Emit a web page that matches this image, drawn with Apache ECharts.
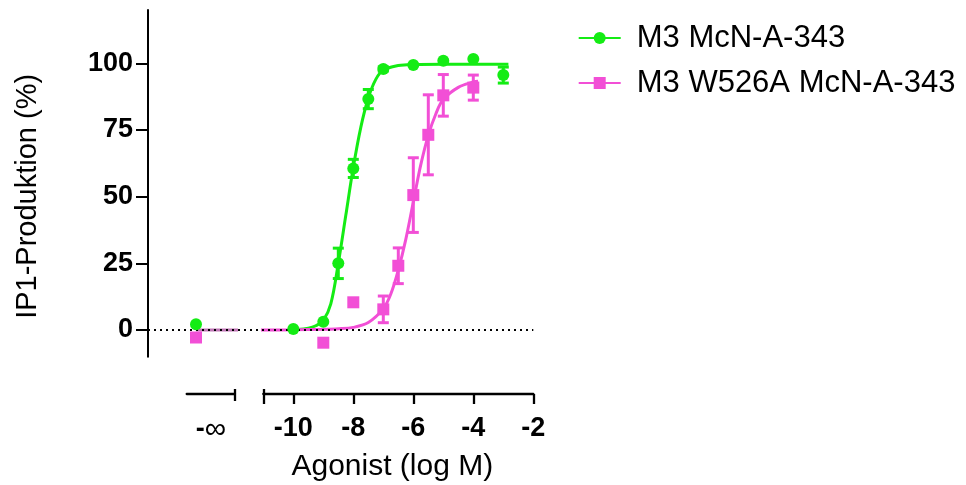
<!DOCTYPE html>
<html><head><meta charset="utf-8">
<script src="https://cdn.jsdelivr.net/npm/echarts@6/dist/echarts.min.js"></script>
<style>html,body{margin:0;padding:0;background:#fff}#c{width:966px;height:485px}</style>
</head><body><div id="c"></div>
<script>
// ---------- data ----------
const seriesNames = ['M3 McN-A-343', 'M3 W526A McN-A-343'];
const xTickValues = [-10, -8, -6, -4, -2];
const yTickValues = [0, 25, 50, 75, 100];

// points at -infinity (plotted on the left broken segment)
const negInfX = 0.31;
const greenNegInfY = 2.2;
const pinkNegInfY = -2.8;
const baselineX = [0.31, 1.74];
const baselineY = [0, 0];

// measured points (mean ± error)
const greenX = [-10, -9, -8.5, -8, -7.5, -7, -6, -5, -4, -3];
const greenY = [0.4, 3.1, 25, 60.6, 86.6, 97.9, 99.4, 101, 101.6, 95.6];
const greenErr = [0, 0, 5.7, 3.4, 3.6, 0.8, 0, 0, 0, 3];

const pinkX = [-9, -8, -7, -6.5, -6, -5.5, -5, -4];
const pinkY = [-4.75, 10.4, 7.75, 24.1, 50.6, 73.2, 88, 90.9];
const pinkErr = [0, 0, 5, 6.7, 14, 15, 7.8, 4.7];

// fitted curves
const greenCurveX = [-10.17, -10, -9.5, -9.25, -9, -8.75, -8.5, -8.25, -8, -7.75, -7.5, -7.25, -7, -6.5, -6, -5, -4, -2.83];
const greenCurveY = [0, 0.1, 0.7, 1.6, 3.6, 9.8, 25, 43, 61, 76, 87, 94, 97.5, 99.2, 99.6, 99.7, 99.7, 99.7];

const pinkCurveX = [-11.17, -10, -9, -8.5, -8, -7.5, -7, -6.75, -6.5, -6.25, -6, -5.75, -5.5, -5.25, -5, -4.5, -4, -3.84];
const pinkCurveY = [0, 0.1, 0.3, 0.5, 1, 2.8, 8, 13.5, 22.5, 34, 48, 62, 73, 81, 86.5, 91, 93, 93.3];

// ---------- style ----------
const FONT = "'Liberation Sans', Arial, sans-serif";
const GREEN = '#14ec14';
const PINK = '#f24fd6';
const zip = (xs, ys) => xs.map((x, i) => [x, ys[i]]);
const zip3 = (xs, ys, es) => xs.map((x, i) => [x, ys[i], es[i]]);

function errRender(color) {
  return function (params, api) {
    const x = api.value(0), y = api.value(1), e = api.value(2);
    if (!e) return null;
    const t = api.coord([x, y + e]);
    const b = api.coord([x, y - e]);
    const hw = 5.5;
    const st = { stroke: color, lineWidth: 3 };
    return {
      type: 'group',
      children: [
        { type: 'line', shape: { x1: t[0], y1: t[1], x2: b[0], y2: b[1] }, style: st },
        { type: 'line', shape: { x1: t[0] - hw, y1: t[1], x2: t[0] + hw, y2: t[1] }, style: st },
        { type: 'line', shape: { x1: b[0] - hw, y1: b[1], x2: b[0] + hw, y2: b[1] }, style: st }
      ]
    };
  };
}

const gridTop = 10, gridH = 346.7;
const yBase = { type: 'value', min: -10, max: 120, splitLine: { show: false } };
const hiddenY = Object.assign({}, yBase, { show: false });

const leftMax = 1.61;
const axOff = 37.3;

const option = {
  animation: false,
  backgroundColor: '#fff',
  textStyle: { fontFamily: FONT, color: '#000' },
  grid: [
    { left: 148, top: gridTop, width: 385.3, height: gridH, outerBoundsMode: 'none', containLabel: false },
    { left: 186.7, top: gridTop, width: 48.3, height: gridH, outerBoundsMode: 'none', containLabel: false },
    { left: 263.3, top: gridTop, width: 270, height: gridH, outerBoundsMode: 'none', containLabel: false }
  ],
  xAxis: [
    { gridIndex: 0, type: 'value', min: 0, max: 1, show: false },
    {
      gridIndex: 1, type: 'value', min: 0, max: leftMax, offset: axOff, position: 'bottom',
      axisLine: { show: true, onZero: false, lineStyle: { color: '#000', width: 2.3 } },
      axisTick: { show: true, customValues: [leftMax], length: 7, lineStyle: { color: '#000', width: 2.3 } },
      axisLabel: { show: false },
      splitLine: { show: false },
      name: '{b|-}{n|∞}', nameLocation: 'middle', nameGap: 21,
      nameTextStyle: {
        rich: {
          b: { fontFamily: FONT, fontSize: 27, fontWeight: 'bold', color: '#000' },
          n: { fontFamily: FONT, fontSize: 30, fontWeight: 'normal', color: '#000' }
        }
      }
    },
    {
      gridIndex: 2, type: 'value', min: -11, max: -2, offset: axOff, position: 'bottom',
      axisLine: { show: true, onZero: false, lineStyle: { color: '#000', width: 2.3 } },
      axisTick: { show: true, customValues: [-11].concat(xTickValues), length: 10, lineStyle: { color: '#000', width: 2.3 } },
      axisLabel: { customValues: xTickValues, fontFamily: FONT, fontSize: 27, fontWeight: 'bold', color: '#000', margin: 21 },
      splitLine: { show: false },
      name: 'Agonist (log M)', nameLocation: 'middle', nameGap: 58,
      nameTextStyle: { fontFamily: FONT, fontSize: 30, color: '#000', padding: [0, 12, 0, 0] }
    },
    {
      gridIndex: 2, type: 'value', min: -11, max: -2, offset: axOff, position: 'bottom',
      axisLine: { show: false, onZero: false },
      axisTick: { show: true, inside: true, customValues: [-11], length: 5, lineStyle: { color: '#000', width: 2.3 } },
      axisLabel: { show: false }, splitLine: { show: false }
    },
    {
      gridIndex: 1, type: 'value', min: 0, max: leftMax, offset: axOff, position: 'bottom',
      axisLine: { show: false, onZero: false },
      axisTick: { show: true, inside: true, customValues: [leftMax], length: 5, lineStyle: { color: '#000', width: 2.3 } },
      axisLabel: { show: false }, splitLine: { show: false }
    }
  ],
  yAxis: [
    Object.assign({}, yBase, {
      gridIndex: 0,
      axisLine: { show: true, onZero: false, lineStyle: { color: '#000', width: 2 } },
      axisTick: { show: true, customValues: yTickValues, length: 12, lineStyle: { color: '#000', width: 2 } },
      axisLabel: { customValues: yTickValues, fontFamily: FONT, fontSize: 27, fontWeight: 'bold', color: '#000', margin: 15 },
      name: 'IP1-Produktion (%)', nameLocation: 'middle', nameRotate: 90, nameGap: 106,
      nameTextStyle: { fontFamily: FONT, fontSize: 29, color: '#000', padding: [0, 26, 0, 0] }
    }),
    Object.assign({}, hiddenY, { gridIndex: 1 }),
    Object.assign({}, hiddenY, { gridIndex: 2 })
  ],
  legend: {
    orient: 'vertical', left: 572.7, top: 15,
    data: seriesNames,
    itemWidth: 42, itemHeight: 15, itemGap: 9,
    textStyle: { fontFamily: FONT, fontSize: 31, color: '#000', lineHeight: 36, padding: [0, 0, 0, 11] },
    selectedMode: false
  },
  series: [
    {
      type: 'line', xAxisIndex: 0, yAxisIndex: 0, data: [], silent: true,
      markLine: {
        silent: true, symbol: 'none', label: { show: false },
        lineStyle: { color: '#000', type: [2, 4], width: 2 },
        data: [{ yAxis: 0 }]
      }
    },
    {
      type: 'line', xAxisIndex: 1, yAxisIndex: 1, data: zip(baselineX, baselineY),
      showSymbol: false, clip: false, lineStyle: { color: '#c278b8', width: 3 }, silent: true, z: 3
    },
    {
      name: seriesNames[0], type: 'line', xAxisIndex: 2, yAxisIndex: 2,
      data: zip(greenCurveX, greenCurveY), smooth: 0.35, clip: false,
      symbol: 'circle', symbolSize: 12, showSymbol: false,
      lineStyle: { color: GREEN, width: 3 }, itemStyle: { color: GREEN }, z: 3
    },
    {
      name: seriesNames[1], type: 'line', xAxisIndex: 2, yAxisIndex: 2,
      data: zip(pinkCurveX, pinkCurveY), smooth: 0.35, clip: false,
      symbol: 'rect', symbolSize: 12, showSymbol: false,
      lineStyle: { color: PINK, width: 3 }, itemStyle: { color: PINK }, z: 4
    },
    {
      type: 'custom', xAxisIndex: 2, yAxisIndex: 2, renderItem: errRender(GREEN),
      data: zip3(greenX, greenY, greenErr), encode: { x: 0, y: 1 }, z: 5, silent: true
    },
    {
      type: 'custom', xAxisIndex: 2, yAxisIndex: 2, renderItem: errRender(PINK),
      data: zip3(pinkX, pinkY, pinkErr), encode: { x: 0, y: 1 }, z: 5, silent: true
    },
    {
      type: 'scatter', xAxisIndex: 2, yAxisIndex: 2, data: zip(greenX, greenY),
      symbol: 'circle', symbolSize: 12, itemStyle: { color: GREEN, opacity: 1 }, z: 6, silent: true
    },
    {
      type: 'scatter', xAxisIndex: 2, yAxisIndex: 2, data: zip(pinkX, pinkY),
      symbol: 'rect', symbolSize: 12, itemStyle: { color: PINK, opacity: 1 }, z: 7, silent: true
    },
    {
      type: 'scatter', xAxisIndex: 1, yAxisIndex: 1, data: [[negInfX, greenNegInfY]], clip: false,
      symbol: 'circle', symbolSize: 12, itemStyle: { color: GREEN, opacity: 1 }, z: 6, silent: true
    },
    {
      type: 'scatter', xAxisIndex: 1, yAxisIndex: 1, data: [[negInfX, pinkNegInfY]], clip: false,
      symbol: 'rect', symbolSize: 12, itemStyle: { color: PINK, opacity: 1 }, z: 7, silent: true
    }
  ]
};

const chart = echarts.init(document.getElementById('c'), null, { renderer: 'canvas' });
chart.setOption(option);
</script>
</body></html>
